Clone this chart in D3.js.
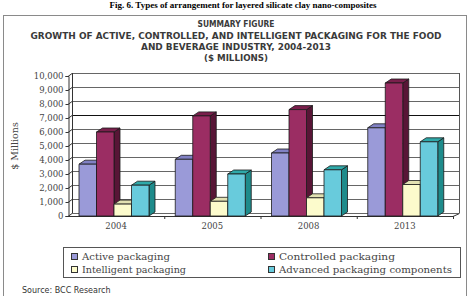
<!DOCTYPE html>
<html>
<head>
<meta charset="utf-8">
<script src="https://cdn.jsdelivr.net/npm/d3@7"></script>
<style>
  body { margin: 0; background: #fff; }
  svg { display: block; }
</style>
</head>
<body>
<svg id="chart" width="471" height="296"></svg>
<script>
let years = ['2004', '2005', '2008', '2013']
let series = ['Active packaging', 'Controlled packaging', 'Intelligent packaging', 'Advanced packaging components']
let active = [3700, 4050, 4500, 6300]
let controlled = [6000, 7150, 7600, 9500]
let intelligent = [850, 1050, 1300, 2250]
let advanced = [2200, 3000, 3300, 5300]
let yTicks = [0, 1000, 2000, 3000, 4000, 5000, 6000, 7000, 8000, 9000, 10000]

let values = [active, controlled, intelligent, advanced]
let frontColor = ['#9a9ad8', '#9b2d63', '#fcfbcc', '#68cbdc']
let sideColor = ['#6a6aa6', '#581536', '#cfcea0', '#1e8b8b']
let topColor = ['#8181c4', '#7a1f4c', '#e2e1b2', '#2fa9a9']

let svg = d3.select('#chart')
let serif = 'DejaVu Serif, serif'
let sans = 'DejaVu Sans, sans-serif'

// caption above the frame
svg.append('text')
    .attr('x', 243).attr('y', 8)
    .attr('text-anchor', 'middle')
    .attr('font-family', 'Liberation Serif, serif')
    .attr('font-weight', 'bold')
    .attr('font-size', 9)
    .attr('textLength', 267)
    .attr('lengthAdjust', 'spacingAndGlyphs')
    .text('Fig. 6. Types of arrangement for layered silicate clay nano-composites')

// frame
svg.append('rect')
    .attr('x', 3.5).attr('y', 15.5)
    .attr('width', 463).attr('height', 290)
    .attr('fill', '#fff')
    .attr('stroke', '#8a8a8a')

// titles
svg.append('clipPath').attr('id', 'titleclip')
    .append('rect').attr('x', 0).attr('y', 0).attr('width', 471).attr('height', 62)

let titles = [
    ['SUMMARY FIGURE', 27, 77],
    ['GROWTH OF ACTIVE, CONTROLLED, AND INTELLIGENT PACKAGING FOR THE FOOD', 39, 411],
    ['AND BEVERAGE INDUSTRY, 2004-2013', 50, 190],
    ['($ MILLIONS)', 61, 64]
]
svg.append('g').attr('clip-path', 'url(#titleclip)')
    .selectAll('text')
    .data(titles)
    .enter()
    .append('text')
    .attr('x', 236)
    .attr('y', d => d[1])
    .attr('text-anchor', 'middle')
    .attr('font-family', sans)
    .attr('font-weight', 'bold')
    .attr('font-size', 9.5)
    .attr('fill', '#3a3a3a')
    .attr('textLength', d => d[2])
    .attr('lengthAdjust', 'spacingAndGlyphs')
    .text(d => d[0])

// scales
let x = d3.scaleBand().domain(years).range([68, 453])
let inner = d3.scaleBand().domain(d3.range(4)).range([11, 81])
let y = d3.scaleLinear().domain([0, 10000]).range([216, 76])

let wdx = 4, wdy = -3   // wall depth
let bdx = 6, bdy = -4   // bar depth

// back wall and grid
let wall = svg.append('g')

wall.selectAll('line.grid')
    .data(yTicks)
    .enter()
    .append('line')
    .attr('class', 'grid')
    .attr('x1', x.range()[0] + wdx)
    .attr('x2', x.range()[1] + wdx + 2)
    .attr('y1', d => y(d) + wdy + 0.5)
    .attr('y2', d => y(d) + wdy + 0.5)
    .attr('stroke', d => d === 7000 ? '#111' : '#666')
    .attr('stroke-width', 1)

// side wall edges
wall.selectAll('line.diag')
    .data(yTicks)
    .enter()
    .append('line')
    .attr('class', 'diag')
    .attr('x1', x.range()[0]).attr('y1', d => y(d) + 0.5)
    .attr('x2', x.range()[0] + wdx).attr('y2', d => y(d) + wdy + 0.5)
    .attr('stroke', '#333')

wall.append('line')
    .attr('x1', x.range()[0] + wdx + 0.5).attr('x2', x.range()[0] + wdx + 0.5)
    .attr('y1', y(10000) + wdy).attr('y2', y(0) + wdy)
    .attr('stroke', '#333')
wall.append('line')
    .attr('x1', x.range()[1] + wdx + 2.5).attr('x2', x.range()[1] + wdx + 2.5)
    .attr('y1', y(10000) + wdy).attr('y2', y(0) + wdy)
    .attr('stroke', '#555')

// floor front edge
wall.append('line')
    .attr('x1', x.range()[0]).attr('x2', x.range()[1])
    .attr('y1', y(0) + 0.5).attr('y2', y(0) + 0.5)
    .attr('stroke', '#333')
wall.append('line')
    .attr('x1', x.range()[1]).attr('y1', y(0) + 0.5)
    .attr('x2', x.range()[1] + wdx + 2.5).attr('y2', y(0) + wdy + 0.5)
    .attr('stroke', '#333')

// front y axis
svg.append('g')
    .attr('transform', 'translate(' + (x.range()[0] + 0.5) + ',0)')
    .call(d3.axisLeft(y).tickValues(yTicks).tickSize(3).tickPadding(2).tickFormat(d3.format(',')))
    .call(g => g.select('.domain').attr('stroke', '#333'))
    .call(g => g.selectAll('line').attr('stroke', '#333'))
    .call(g => g.selectAll('text')
        .attr('font-family', serif)
        .attr('font-size', 8.5)
        .attr('fill', '#444'))

// x ticks below floor
svg.append('g')
    .selectAll('line')
    .data(years.slice(1).concat(['end']))
    .enter()
    .append('line')
    .attr('x1', d => (d === 'end' ? x.range()[1] : x(d)) + 0.5)
    .attr('x2', d => (d === 'end' ? x.range()[1] : x(d)) + 0.5)
    .attr('y1', y(0)).attr('y2', y(0) + 3)
    .attr('stroke', '#333')

svg.append('g')
    .selectAll('text')
    .data(years)
    .enter()
    .append('text')
    .attr('x', d => x(d) + x.bandwidth() / 2)
    .attr('y', 229)
    .attr('text-anchor', 'middle')
    .attr('font-family', serif)
    .attr('font-size', 8.5)
    .attr('fill', '#444')
    .text(d => d)

// bars
let bars = []
years.forEach((yr, i) => {
    values.forEach((vals, s) => {
        bars.push({ year: yr, s: s, v: vals[i] })
    })
})

let barG = svg.append('g')
    .selectAll('g')
    .data(bars)
    .enter()
    .append('g')
    .attr('stroke', '#1a1a1a')
    .attr('stroke-width', 0.8)
    .attr('stroke-linejoin', 'round')

let bx = d => x(d.year) + inner(d.s)
let bw = inner.bandwidth()

barG.append('path')
    .attr('fill', d => sideColor[d.s])
    .attr('d', d => {
        let x1 = bx(d) + bw, t = y(d.v), b = y(0)
        return 'M' + x1 + ',' + t + 'L' + (x1 + bdx) + ',' + (t + bdy) +
            'L' + (x1 + bdx) + ',' + (b + bdy) + 'L' + x1 + ',' + b + 'Z'
    })
barG.append('path')
    .attr('fill', d => topColor[d.s])
    .attr('d', d => {
        let x0 = bx(d), t = y(d.v)
        return 'M' + x0 + ',' + t + 'L' + (x0 + bdx) + ',' + (t + bdy) +
            'L' + (x0 + bw + bdx) + ',' + (t + bdy) + 'L' + (x0 + bw) + ',' + t + 'Z'
    })
barG.append('rect')
    .attr('fill', d => frontColor[d.s])
    .attr('x', d => bx(d))
    .attr('y', d => y(d.v))
    .attr('width', bw)
    .attr('height', d => y(0) - y(d.v))

// y axis title
svg.append('text')
    .attr('transform', 'translate(18,146) rotate(-90)')
    .attr('text-anchor', 'middle')
    .attr('font-family', serif)
    .attr('font-size', 9.5)
    .attr('fill', '#444')
    .text('$ Millions')

// legend
let legend = svg.append('g')
legend.append('rect')
    .attr('x', 63.5).attr('y', 247.5)
    .attr('width', 397).attr('height', 30)
    .attr('fill', '#fff')
    .attr('stroke', '#555')

let item = legend.selectAll('g')
    .data(series)
    .enter()
    .append('g')
    .attr('transform', (d, i) => 'translate(' + (i % 2 === 0 ? 71 : 268) + ',' + (i < 2 ? 253 : 266) + ')')

item.append('rect')
    .attr('x', 0.5).attr('y', 0.5)
    .attr('width', 6).attr('height', 6)
    .attr('fill', (d, i) => frontColor[i])
    .attr('stroke', '#333')

item.append('text')
    .attr('x', 11).attr('y', 7)
    .attr('font-family', serif)
    .attr('font-size', 8.5)
    .attr('fill', '#444')
    .attr('textLength', (d, i) => [88, 116, 104, 173][i])
    .attr('lengthAdjust', 'spacingAndGlyphs')
    .text(d => d)

// source
svg.append('text')
    .attr('x', 22).attr('y', 293)
    .attr('font-family', sans)
    .attr('font-size', 8)
    .attr('fill', '#333')
    .text('Source: BCC Research')
</script>
</body>
</html>
